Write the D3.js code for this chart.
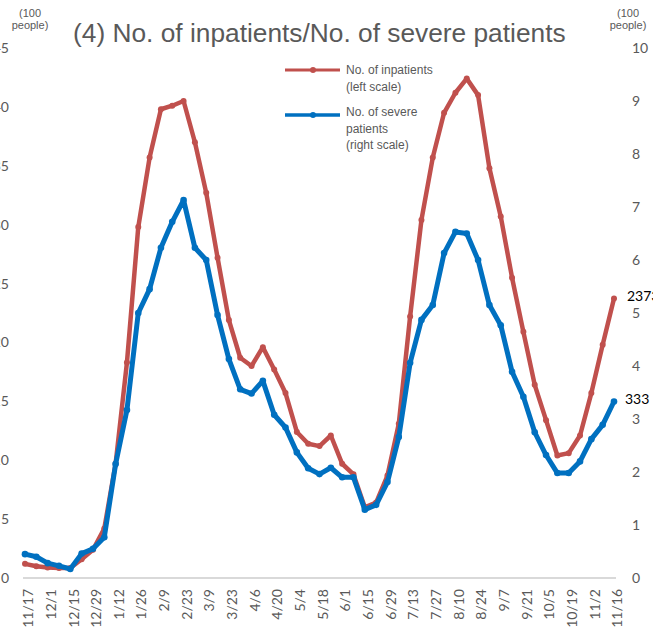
<!DOCTYPE html>
<html><head><meta charset="utf-8">
<script src="https://cdn.jsdelivr.net/npm/d3@7"></script>
<style>
html,body{margin:0;padding:0;background:#fff;}
svg{display:block;}
</style></head>
<body>
<svg id="chart" width="653" height="637"></svg>
<script>
const weeks = ["11/17","11/24","12/1","12/8","12/15","12/22","12/29","1/5","1/12","1/19","1/26","2/2","2/9","2/16","2/23","3/2","3/9","3/16","3/23","3/30","4/6","4/13","4/20","4/27","5/4","5/11","5/18","5/25","6/1","6/8","6/15","6/22","6/29","7/6","7/13","7/20","7/27","8/3","8/10","8/17","8/24","8/31","9/7","9/14","9/21","9/28","10/5","10/12","10/19","10/26","11/2","11/9","11/16"];
const inpatients = [1.2,1.0,0.9,0.85,0.85,1.6,2.4,4.2,9.7,18.3,29.8,35.7,39.8,40.1,40.5,37.0,32.7,27.2,21.9,18.7,18.0,19.6,17.7,15.7,12.4,11.4,11.2,12.1,9.7,8.8,6.0,6.4,8.7,13.1,22.2,30.4,35.7,39.5,41.2,42.4,41.0,34.8,30.7,25.5,20.9,16.4,13.4,10.4,10.6,12.1,15.7,19.8,23.73];
const severe = [0.45,0.4,0.28,0.23,0.17,0.46,0.55,0.77,2.15,3.17,5.0,5.45,6.23,6.72,7.13,6.23,6.0,4.96,4.13,3.56,3.48,3.72,3.08,2.84,2.37,2.07,1.96,2.08,1.9,1.9,1.29,1.38,1.81,2.66,4.06,4.87,5.15,6.13,6.53,6.5,6.0,5.15,4.77,3.89,3.42,2.75,2.32,1.98,1.98,2.2,2.62,2.89,3.33];
const leftTicks = [0,5,10,15,20,25,30,35,40,45];
const rightTicks = [0,1,2,3,4,5,6,7,8,9,10];
const xTickLabels = weeks.filter((d,i)=>i%2===0);
const title = "(4) No. of inpatients/No. of severe patients";
const seriesNames = ["No. of inpatients|(left scale)","No. of severe|patients|(right scale)"];
const endLabels = ["2373","333"];

const svg = d3.select("#chart");
const red = "#c0504d", blue = "#0070c0", grey = "#595959";
const numFont = "Lato, 'Open Sans', sans-serif";
const txtFont = "'Liberation Sans', Arial, sans-serif";

const x = d3.scalePoint().domain(weeks).range([25, 614]);
const yL = d3.scaleLinear().domain([0,45]).range([578,48]);
const yR = d3.scaleLinear().domain([0,10]).range([578,48]);

// baseline
svg.append("line").attr("x1",23).attr("x2",616).attr("y1",578).attr("y2",578)
  .attr("stroke","#d9d9d9").attr("stroke-width",2);

// left axis
const gL = svg.append("g").attr("transform","translate(12,0)")
  .call(d3.axisLeft(yL).tickValues(leftTicks).tickSize(0).tickPadding(3));
gL.select(".domain").remove();
gL.selectAll("text").attr("font-family",numFont).attr("font-size",14).attr("fill",grey);

// right axis
const gR = svg.append("g").attr("transform","translate(629,0)")
  .call(d3.axisRight(yR).tickValues(rightTicks).tickSize(0).tickPadding(3));
gR.select(".domain").remove();
gR.selectAll("text").attr("font-family",numFont).attr("font-size",14).attr("fill",grey);

// x axis
const gX = svg.append("g").attr("transform","translate(0,578)")
  .call(d3.axisBottom(x).tickValues(xTickLabels).tickSize(0));
gX.select(".domain").remove();
gX.selectAll("text")
  .attr("font-family",numFont).attr("font-size",14).attr("fill",grey)
  .attr("text-anchor","end")
  .attr("transform","rotate(-90)")
  .attr("x",-11).attr("y",0).attr("dy","0.55em");

// unit labels
[[30,"(100","people)"],[628,"(100","people)"]].forEach(([cx,a,b])=>{
  const t = svg.append("text").attr("font-family",txtFont).attr("font-size",11)
    .attr("fill",grey).attr("text-anchor","middle");
  t.append("tspan").attr("x",cx).attr("y",17).text(a);
  t.append("tspan").attr("x",cx).attr("y",29).text(b);
});

// title
svg.append("text").attr("x",73).attr("y",42).attr("font-family",txtFont)
  .attr("font-size",26.3).attr("fill",grey).text(title);

// lines
const lineL = d3.line().x((d,i)=>x(weeks[i])).y(d=>yL(d));
const lineR = d3.line().x((d,i)=>x(weeks[i])).y(d=>yR(d));
svg.append("path").attr("d",lineL(inpatients)).attr("fill","none")
  .attr("stroke",red).attr("stroke-width",4.5).attr("stroke-linejoin","round").attr("stroke-linecap","round");
svg.append("g").selectAll("circle").data(inpatients).join("circle")
  .attr("cx",(d,i)=>x(weeks[i])).attr("cy",d=>yL(d)).attr("r",3).attr("fill",red);
svg.append("path").attr("d",lineR(severe)).attr("fill","none")
  .attr("stroke",blue).attr("stroke-width",5).attr("stroke-linejoin","round").attr("stroke-linecap","round");
svg.append("g").selectAll("circle").data(severe).join("circle")
  .attr("cx",(d,i)=>x(weeks[i])).attr("cy",d=>yR(d)).attr("r",3.3).attr("fill",blue);

// end labels
const last = weeks.length-1;
svg.append("text").attr("x",x(weeks[last])+13).attr("y",yL(inpatients[last])+2)
  .attr("font-family",numFont).attr("font-size",14).attr("fill","#000").text(endLabels[0]);
svg.append("text").attr("x",x(weeks[last])+11).attr("y",yR(severe[last])+2)
  .attr("font-family",numFont).attr("font-size",14).attr("fill","#000").text(endLabels[1]);

// legend
const leg = [{c:red,y:70,w:3,lines:seriesNames[0].split("|"),ty:74},
             {c:blue,y:115,w:3.5,lines:seriesNames[1].split("|"),ty:116}];
leg.forEach(l=>{
  svg.append("line").attr("x1",285).attr("x2",340).attr("y1",l.y).attr("y2",l.y)
    .attr("stroke",l.c).attr("stroke-width",l.w);
  svg.append("circle").attr("cx",313).attr("cy",l.y).attr("r",3).attr("fill",l.c);
  const t = svg.append("text").attr("font-family",txtFont).attr("font-size",12).attr("fill",grey);
  l.lines.forEach((s,k)=>t.append("tspan").attr("x",346).attr("y",l.ty+k*16.5).text(s));
});
</script>
</body></html>
